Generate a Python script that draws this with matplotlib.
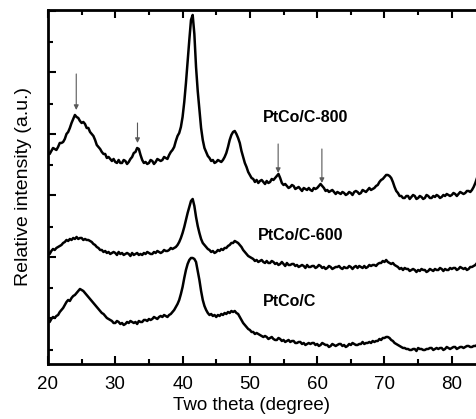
import numpy as np
import matplotlib
matplotlib.use("Agg")
import matplotlib.pyplot as plt
from matplotlib.ticker import MultipleLocator, FixedLocator

plt.rcParams['font.family'] = ['Liberation Sans', 'DejaVu Sans']

# stacked XRD patterns (a.u., offsets included), sampled every 0.25 degree
# one row per degree, 20 ... 85
ptco_c_800 = [
    212, 210, 213, 216,
    215, 214, 217, 221,
    221, 222, 225, 230,
    232, 236, 241, 245,
    249, 247, 246, 243,
    241, 242, 240, 236,
    236, 232, 230, 228,
    224, 219, 217, 215,
    212, 210, 210, 206,
    207, 205, 203, 205,
    202, 201, 204, 201,
    201, 204, 203, 200,
    202, 205, 207, 211,
    212, 216, 215, 209,
    204, 201, 202, 200,
    201, 204, 203, 200,
    202, 205, 204, 203,
    204, 207, 206, 205,
    209, 212, 214, 217,
    223, 228, 231, 237,
    247, 262, 281, 303,
    324, 344, 349, 330,
    297, 273, 254, 236,
    224, 216, 212, 208,
    206, 203, 204, 201,
    202, 204, 203, 202,
    204, 207, 211, 217,
    224, 229, 232, 233,
    230, 226, 221, 213,
    207, 201, 197, 192,
    189, 186, 185, 182,
    184, 181, 183, 184,
    182, 180, 183, 181,
    182, 185, 184, 186,
    188, 190, 186, 181,
    179, 180, 178, 176,
    177, 179, 178, 175,
    176, 177, 175, 173,
    176, 175, 174, 176,
    174, 173, 176, 175,
    176, 178, 180, 178,
    176, 173, 174, 172,
    173, 174, 172, 170,
    172, 171, 170, 172,
    171, 169, 170, 172,
    171, 169, 172, 173,
    172, 170, 171, 174,
    173, 172, 174, 176,
    174, 175, 176, 178,
    179, 182, 184, 185,
    187, 189, 189, 188,
    186, 182, 177, 173,
    171, 168, 168, 166,
    166, 168, 168, 165,
    167, 169, 168, 165,
    166, 168, 167, 165,
    166, 169, 168, 166,
    166, 168, 167, 169,
    168, 166, 167, 169,
    168, 170, 169, 168,
    169, 171, 170, 168,
    170, 172, 171, 170,
    171, 173, 173, 172,
    174, 177, 181, 186,
    190, 194, 196, 195,
    194,
]
ptco_c_600 = [
    112, 110, 113, 115,
    114, 116, 117, 118,
    119, 121, 122, 124,
    123, 125, 124, 126,
    125, 127, 125, 126,
    126, 124, 125, 124,
    124, 123, 122, 120,
    119, 117, 116, 114,
    114, 112, 113, 111,
    112, 110, 111, 112,
    111, 109, 112, 110,
    111, 109, 110, 111,
    110, 108, 111, 109,
    110, 111, 109, 110,
    109, 111, 110, 112,
    111, 110, 110, 112,
    111, 113, 112, 111,
    112, 114, 113, 113,
    114, 116, 115, 116,
    117, 119, 122, 126,
    131, 137, 144, 151,
    157, 163, 165, 158,
    147, 138, 131, 125,
    121, 119, 117, 115,
    114, 112, 113, 111,
    112, 114, 113, 115,
    114, 116, 116, 118,
    119, 121, 121, 123,
    122, 121, 119, 117,
    114, 112, 110, 108,
    107, 106, 105, 103,
    104, 102, 103, 104,
    102, 101, 103, 101,
    101, 103, 102, 100,
    101, 99, 100, 102,
    100, 98, 101, 99,
    99, 100, 100, 98,
    99, 97, 98, 99,
    98, 96, 99, 97,
    97, 98, 98, 96,
    97, 99, 98, 96,
    97, 95, 96, 98,
    97, 95, 96, 97,
    97, 98, 96, 95,
    97, 96, 96, 98,
    97, 95, 97, 98,
    96, 98, 97, 96,
    98, 96, 97, 99,
    98, 99, 99, 98,
    100, 101, 101, 103,
    102, 104, 102, 101,
    100, 101, 99, 98,
    97, 95, 96, 94,
    96, 95, 95, 93,
    94, 95, 94, 92,
    94, 93, 95, 94,
    94, 92, 93, 95,
    94, 93, 95, 94,
    94, 96, 95, 93,
    95, 94, 94, 96,
    95, 96, 96, 94,
    95, 97, 96, 95,
    96, 94, 95, 97,
    97, 98, 99, 101,
    102, 104, 104, 103,
    103,
]
ptco_c = [
    44, 42, 45, 47,
    46, 48, 49, 52,
    54, 56, 59, 62,
    64, 63, 66, 68,
    69, 71, 73, 75,
    74, 73, 71, 69,
    67, 65, 63, 61,
    59, 57, 55, 53,
    51, 50, 48, 46,
    45, 44, 43, 41,
    41, 43, 42, 40,
    41, 39, 40, 42,
    41, 43, 42, 41,
    42, 40, 43, 42,
    42, 44, 44, 43,
    45, 44, 45, 47,
    46, 45, 47, 48,
    47, 49, 48, 47,
    49, 50, 52, 54,
    57, 60, 64, 70,
    77, 86, 94, 100,
    104, 106, 106, 105,
    102, 93, 84, 73,
    64, 58, 54, 51,
    49, 50, 48, 49,
    47, 49, 48, 50,
    49, 51, 50, 52,
    51, 53, 52, 53,
    51, 50, 47, 44,
    41, 39, 37, 35,
    34, 32, 32, 30,
    31, 30, 29, 28,
    27, 28, 27, 25,
    26, 27, 25, 24,
    24, 26, 25, 23,
    24, 22, 23, 24,
    22, 23, 23, 21,
    21, 22, 22, 20,
    21, 19, 20, 21,
    20, 21, 21, 19,
    20, 18, 19, 21,
    20, 19, 19, 17,
    18, 20, 19, 18,
    19, 20, 20, 18,
    19, 17, 18, 20,
    19, 21, 20, 19,
    19, 20, 20, 22,
    20, 21, 21, 22,
    21, 23, 22, 23,
    23, 25, 24, 26,
    26, 27, 27, 26,
    24, 23, 21, 20,
    19, 18, 17, 16,
    16, 15, 15, 14,
    14, 15, 15, 13,
    16, 15, 15, 14,
    14, 15, 15, 16,
    16, 14, 15, 16,
    15, 16, 16, 14,
    15, 17, 16, 15,
    16, 17, 17, 15,
    16, 17, 17, 16,
    17, 18, 18, 17,
    17, 18, 18, 19,
    19, 20, 20, 19,
    19,
]

two_theta = np.linspace(20.0, 85.0, 261)

labels = ['PtCo/C-800', 'PtCo/C-600', 'PtCo/C']
label_x = [52.0, 51.2, 52.0]
label_y = [246, 128, 62]

# arrows marking extra reflections: (two theta, tail, head)
arrow_x = [24.2, 33.3, 54.2, 60.7]
arrow_top = [290, 241, 220, 215]
arrow_tip = [254, 221, 191, 181]

fig = plt.figure(figsize=(4.76, 4.19), dpi=100)
ax = fig.add_axes([0.1008, 0.1313, 0.919, 0.8449])

for y in [ptco_c_800, ptco_c_600, ptco_c]:
    ax.plot(two_theta, y, color='black', lw=1.8)

for lab, lx, ly in zip(labels, label_x, label_y):
    ax.text(lx, ly, lab, fontsize=11.5, fontweight='bold', va='center', ha='left')

for xa, yt, yh in zip(arrow_x, arrow_top, arrow_tip):
    ax.annotate('', xy=(xa, yh), xytext=(xa, yt),
                arrowprops=dict(arrowstyle='-|>', color='0.35', lw=0.8,
                                mutation_scale=7, shrinkA=0, shrinkB=0))

ax.set_xlim(20, 85)
ax.set_ylim(0, 354)
ax.xaxis.set_major_locator(MultipleLocator(10))
ax.xaxis.set_minor_locator(MultipleLocator(5))
ax.yaxis.set_major_locator(FixedLocator([45.5 + 61.5 * k for k in range(6)]))
ax.yaxis.set_minor_locator(FixedLocator([14 + 61.5 * k for k in range(6)]))
ax.set_yticklabels([])
ax.tick_params(which='both', direction='in', top=True, right=True, width=1.5)
ax.tick_params(which='major', length=6, labelsize=13.5, pad=9)
ax.tick_params(which='minor', length=3.5)
for sp in ax.spines.values():
    sp.set_linewidth(2)

ax.set_xlabel('Two theta (degree)', fontsize=13.5)
ax.xaxis.set_label_coords(0.466, -0.092)
ax.set_ylabel('Relative intensity (a.u.)', fontsize=14)
ax.yaxis.set_label_coords(-0.036, 0.5)

fig.savefig('out.png', dpi=100)
